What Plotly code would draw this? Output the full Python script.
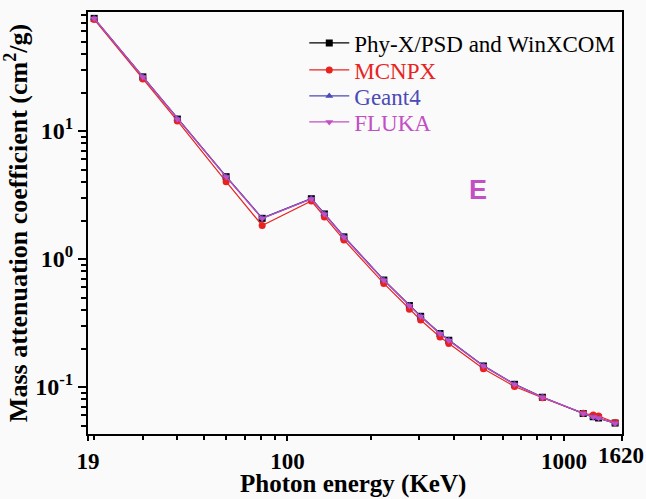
import plotly.graph_objects as go
import numpy as np

energy = [20, 30, 40, 60, 81, 122, 136, 160, 223, 276, 303, 356, 383, 511, 662, 835, 1173, 1275, 1333, 1530]
phyx = [75.9, 26.5, 12.4, 4.40, 2.08, 2.96, 2.25, 1.49, 0.685, 0.433, 0.357, 0.262, 0.232, 0.146, 0.105, 0.0832, 0.0621, 0.0586, 0.0573, 0.0523]
mcnpx = [74.5, 25.5, 12.0, 4.02, 1.83, 2.84, 2.13, 1.41, 0.645, 0.406, 0.334, 0.246, 0.219, 0.139, 0.101, 0.0825, 0.0624, 0.0605, 0.0594, 0.0528]
geant4 = [76.0, 26.6, 12.45, 4.42, 2.09, 2.97, 2.26, 1.50, 0.688, 0.435, 0.358, 0.263, 0.233, 0.147, 0.1055, 0.0835, 0.0618, 0.0580, 0.0570, 0.0520]
fluka = [75.8, 26.4, 12.35, 4.38, 2.07, 2.95, 2.24, 1.48, 0.683, 0.431, 0.356, 0.261, 0.231, 0.146, 0.1048, 0.0830, 0.0620, 0.0583, 0.0572, 0.0522]

series = [
    ("Phy-X/PSD and WinXCOM", phyx, "#000000", "square"),
    ("MCNPX", mcnpx, "#e8231f", "circle"),
    ("Geant4", geant4, "#4a4ab8", "triangle-up"),
    ("FLUKA", fluka, "#c24fc4", "triangle-down"),
]

x_title = "Photon energy (KeV)"
y_title = "Mass attenuation coefficient (cm<sup>2</sup>/g)"
x_ticks = [19, 100, 1000, 1620]
x_ticktext = ["19", "100", "1000", ""]
x_end_label = "1620"
x_minor = [20, 30, 40, 50, 60, 70, 80, 90, 200, 300, 400, 500, 600, 700, 800, 900]
y_ticks = [0.1, 1, 10]
y_ticktext = ["10<sup>-1</sup>", "10<sup>0</sup>", "10<sup>1</sup>"]
y_minor = [0.05, 0.06, 0.07, 0.08, 0.09, 0.2, 0.3, 0.4, 0.5, 0.6, 0.7, 0.8, 0.9,
           2, 3, 4, 5, 6, 7, 8, 9, 20, 30, 40, 50, 60, 70, 80]

serif = "Liberation Serif, Times New Roman, serif"

fig = go.Figure()
legend_rows = [0.9265, 0.8626, 0.801, 0.7393]
layout_legends = {}
for i, (name, vals, color, sym) in enumerate(series):
    lname = "legend" if i == 0 else f"legend{i + 1}"
    fig.add_trace(go.Scatter(
        x=energy, y=vals, name=name, mode="lines+markers",
        line=dict(color=color, width=1.2),
        marker=dict(symbol=sym, size=7, color=color),
        legend=lname,
    ))
    layout_legends[lname] = dict(
        x=0.405, y=legend_rows[i], xanchor="left", yanchor="middle",
        bgcolor="rgba(0,0,0,0)", font=dict(family=serif, size=23, color=color),
        itemwidth=40,
    )

tickfont_x = dict(family=serif, size=23, color="black", weight="bold")
plot_h = 499 - 12 - 65

fig.update_layout(
    width=646, height=499,
    margin=dict(l=88, r=24, t=12, b=65),
    paper_bgcolor="#fafafa", plot_bgcolor="#fafafa",
    font=dict(family=serif, color="black"),
    showlegend=True,
    **layout_legends,
    xaxis=dict(
        type="log", range=[np.log10(19), np.log10(1620)], automargin=False,
        tickmode="array", tickvals=x_ticks, ticktext=x_ticktext,
        ticks="outside", ticklen=5, tickwidth=2, tickcolor="black",
        minor=dict(tickmode="array", tickvals=x_minor, ticks="outside", ticklen=4,
                   tickwidth=1.5, tickcolor="black", showgrid=False),
        showline=True, linecolor="black", linewidth=2, mirror=True,
        showgrid=False, zeroline=False,
        tickfont=tickfont_x,
    ),
    yaxis=dict(
        type="log", range=[-1.367, 1.93], automargin=False,
        tickmode="array", tickvals=y_ticks, ticktext=y_ticktext,
        ticks="outside", ticklen=8, tickwidth=2, tickcolor="black",
        minor=dict(tickmode="array", tickvals=y_minor, ticks="outside", ticklen=5,
                   tickwidth=1.5, tickcolor="black", showgrid=False),
        showline=True, linecolor="black", linewidth=2, mirror=True,
        showgrid=False, zeroline=False,
        tickfont=dict(family=serif, size=24, color="black", weight="bold"),
        title=dict(text="<b>" + y_title + "</b>",
                   font=dict(family=serif, size=26), standoff=2),
    ),
    annotations=[
        dict(x=np.log10(490), y=np.log10(3.46), xref="x", yref="y",
             text="<b>E</b>", showarrow=False,
             font=dict(family="Liberation Sans, Arial, sans-serif", size=27, color="#c24fc4")),
        dict(x=np.log10(1620), y=0, xref="x", yref="paper", yanchor="top", xanchor="center",
             yshift=-7, xshift=-1, text="<b>" + x_end_label + "</b>", showarrow=False,
             font=tickfont_x),
        dict(x=0.5, y=-65 / plot_h, xref="paper", yref="paper", yanchor="bottom",
             xanchor="center", xshift=-2, yshift=-1,
             text="<b>" + x_title + "</b>", showarrow=False,
             font=dict(family=serif, size=25, color="black")),
    ],
)

fig.write_html("out.html")
